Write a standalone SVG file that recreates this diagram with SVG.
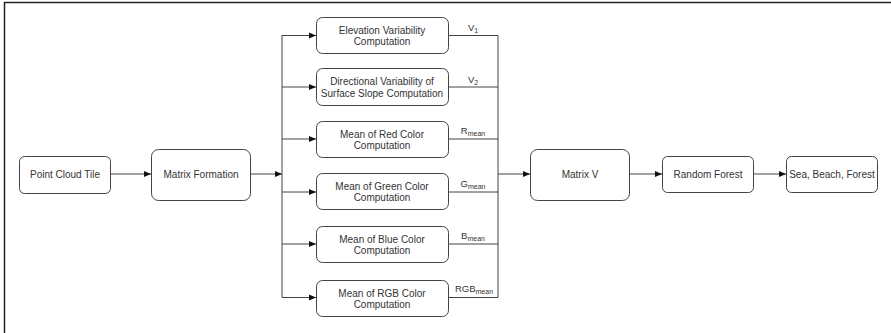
<svg xmlns="http://www.w3.org/2000/svg" width="891" height="333" viewBox="0 0 891 333">
<defs>
<marker id="ah" markerWidth="8" markerHeight="8" refX="7" refY="4" orient="auto" markerUnits="userSpaceOnUse">
<path d="M0,1 L7,4 L0,7 Z" fill="#111"/>
</marker>
</defs>
<style>
.box{fill:#fff;stroke:#444;stroke-width:1}
.t{font-family:"Liberation Sans",Arial,sans-serif;font-size:10px;fill:#333;text-anchor:middle}
.l{font-family:"Liberation Sans",Arial,sans-serif;font-size:9.5px;fill:#333;text-anchor:middle}
.sub{font-size:7px}
.c{fill:none;stroke:#444;stroke-width:1}
.a{fill:none;stroke:#444;stroke-width:1;marker-end:url(#ah)}
</style>
<rect width="891" height="333" fill="#fff"/>
<path d="M4.5,333 V2.5 H891" fill="none" stroke="#222" stroke-width="1.5"/>

<g id="connectors">
<line class="a" x1="110" y1="174" x2="151" y2="174"/>
<line class="a" x1="250" y1="174" x2="282" y2="174"/>
<line class="c" x1="282" y1="35" x2="282" y2="297.5"/>
<line class="a" x1="282" y1="35.5" x2="316" y2="35.5"/>
<line class="a" x1="282" y1="87" x2="316" y2="87"/>
<line class="a" x1="282" y1="139" x2="316" y2="139"/>
<line class="a" x1="282" y1="192" x2="316" y2="192"/>
<line class="a" x1="282" y1="244" x2="316" y2="244"/>
<line class="a" x1="282" y1="297.5" x2="316" y2="297.5"/>
<path class="c" d="M448,35.5 H498 V297.5 H448"/>
<line class="c" x1="448" y1="87" x2="498" y2="87"/>
<line class="c" x1="448" y1="139" x2="498" y2="139"/>
<line class="c" x1="448" y1="192" x2="498" y2="192"/>
<line class="c" x1="448" y1="244" x2="498" y2="244"/>
<line class="a" x1="498" y1="174" x2="530" y2="174"/>
<line class="a" x1="629" y1="174" x2="662" y2="174"/>
<line class="a" x1="753" y1="174" x2="786" y2="174"/>
<text class="l" x="473" y="31">V<tspan class="sub" dy="2">1</tspan></text>
<text class="l" x="473" y="83">V<tspan class="sub" dy="2">2</tspan></text>
<text class="l" x="473" y="134">R<tspan class="sub" dy="2">mean</tspan></text>
<text class="l" x="473" y="187">G<tspan class="sub" dy="2">mean</tspan></text>
<text class="l" x="473" y="239">B<tspan class="sub" dy="2">mean</tspan></text>
<text class="l" x="474" y="292">RGB<tspan class="sub" dy="2">mean</tspan></text>
</g>

<g id="point-cloud-tile">
<rect class="box" x="19.5" y="156.5" width="91" height="37" rx="5"/>
<text class="t" x="65" y="178">Point Cloud Tile</text>
</g>
<g id="matrix-formation">
<rect class="box" x="151.5" y="149.5" width="99" height="51" rx="7"/>
<text class="t" x="201" y="178">Matrix Formation</text>
</g>
<g id="elevation">
<rect class="box" x="316.5" y="17.5" width="132" height="36" rx="6"/>
<text class="t" x="382" y="33.5">Elevation Variability</text>
<text class="t" x="382" y="45">Computation</text>
</g>
<g id="directional">
<rect class="box" x="316.5" y="68.5" width="132" height="37" rx="6"/>
<text class="t" x="382" y="85">Directional Variability of</text>
<text class="t" x="382" y="96.5">Surface Slope Computation</text>
</g>
<g id="red">
<rect class="box" x="316.5" y="121.5" width="132" height="36" rx="6"/>
<text class="t" x="382" y="137.5">Mean of Red Color</text>
<text class="t" x="382" y="149">Computation</text>
</g>
<g id="green">
<rect class="box" x="316.5" y="173.5" width="132" height="36" rx="6"/>
<text class="t" x="382" y="189.5">Mean of Green Color</text>
<text class="t" x="382" y="201">Computation</text>
</g>
<g id="blue">
<rect class="box" x="316.5" y="226.5" width="132" height="36" rx="6"/>
<text class="t" x="382" y="242.5">Mean of Blue Color</text>
<text class="t" x="382" y="254">Computation</text>
</g>
<g id="rgb">
<rect class="box" x="316.5" y="280.5" width="132" height="36" rx="6"/>
<text class="t" x="382" y="296.5">Mean of RGB Color</text>
<text class="t" x="382" y="308">Computation</text>
</g>
<g id="matrix-v">
<rect class="box" x="530.5" y="149.5" width="99" height="51" rx="7"/>
<text class="t" x="580" y="178">Matrix V</text>
</g>
<g id="random-forest">
<rect class="box" x="662.5" y="156.5" width="91" height="36" rx="5"/>
<text class="t" x="708" y="178">Random Forest</text>
</g>
<g id="output">
<rect class="box" x="786.5" y="156.5" width="91" height="36" rx="5"/>
<text class="t" x="832" y="178">Sea, Beach, Forest</text>
</g>
</svg>
